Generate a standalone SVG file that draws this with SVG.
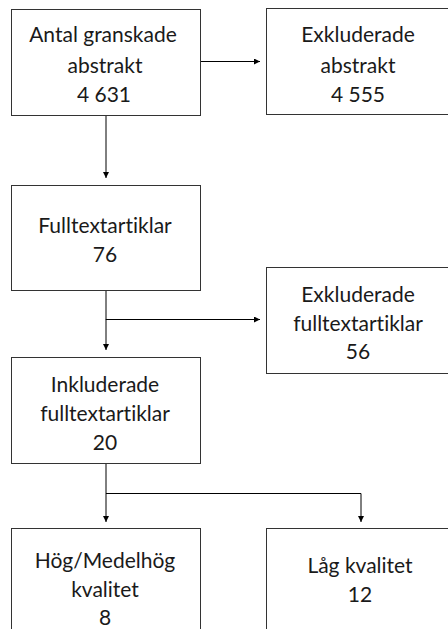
<svg xmlns="http://www.w3.org/2000/svg" width="448" height="629" viewBox="0 0 448 629">
<defs>
<marker id="ah" viewBox="0 0 6 6" refX="6" refY="3" markerWidth="6" markerHeight="6" orient="auto" markerUnits="userSpaceOnUse">
<path d="M0,0 L6,3 L0,6 z" fill="#000"/>
</marker>
<style>
.box{fill:#fff;stroke:#333;stroke-width:1}
.t{font-family:Lato,"Open Sans",sans-serif;font-weight:400;font-size:21px;fill:#1a1a1a;text-anchor:middle;font-variant-ligatures:none}
.c{fill:none;stroke:#000;stroke-width:1}
</style>
</defs>
<rect width="448" height="629" fill="#fff"/>
<g id="connectors">
<line class="c" x1="200" y1="61.5" x2="260" y2="61.5" marker-end="url(#ah)"/>
<line class="c" x1="106" y1="115" x2="106" y2="178" marker-end="url(#ah)"/>
<polyline class="c" points="106,290 106,319.5 260,319.5" marker-end="url(#ah)"/>
<line class="c" x1="106" y1="319" x2="106" y2="350" marker-end="url(#ah)"/>
<line class="c" x1="106" y1="463" x2="106" y2="522" marker-end="url(#ah)"/>
<polyline class="c" points="106,493.5 361,493.5 361,522" marker-end="url(#ah)"/>
</g>
<g id="n1"><rect class="box" x="11.5" y="9.5" width="189" height="106"/>
<text class="t" x="103" y="42">Antal granskade</text><text class="t" x="105" y="72.5">abstrakt</text><text class="t" x="104" y="101.5">4 631</text></g>
<g id="n2"><rect class="box" x="266.5" y="8.5" width="190" height="106"/>
<text class="t" x="358" y="42">Exkluderade</text><text class="t" x="358" y="72.5">abstrakt</text><text class="t" x="358" y="101.5">4 555</text></g>
<g id="n3"><rect class="box" x="11.5" y="185.5" width="189" height="105"/>
<text class="t" x="105" y="233">Fulltextartiklar</text><text class="t" x="105" y="262">76</text></g>
<g id="n4"><rect class="box" x="266.5" y="267.5" width="190" height="106"/>
<text class="t" x="358" y="301.5">Exkluderade</text><text class="t" x="358" y="330.5">fulltextartiklar</text><text class="t" x="358" y="359">56</text></g>
<g id="n5"><rect class="box" x="11.5" y="357.5" width="189" height="106"/>
<text class="t" x="105" y="392">Inkluderade</text><text class="t" x="105" y="421">fulltextartiklar</text><text class="t" x="105" y="450">20</text></g>
<g id="n6"><rect class="box" x="11.5" y="528.5" width="189" height="110"/>
<text class="t" x="105" y="568">Hög/Medelhög</text><text class="t" x="105" y="597">kvalitet</text><text class="t" x="105" y="625">8</text></g>
<g id="n7"><rect class="box" x="266.5" y="528.5" width="190" height="110"/>
<text class="t" x="360" y="573">Låg kvalitet</text><text class="t" x="360" y="602">12</text></g>
</svg>
